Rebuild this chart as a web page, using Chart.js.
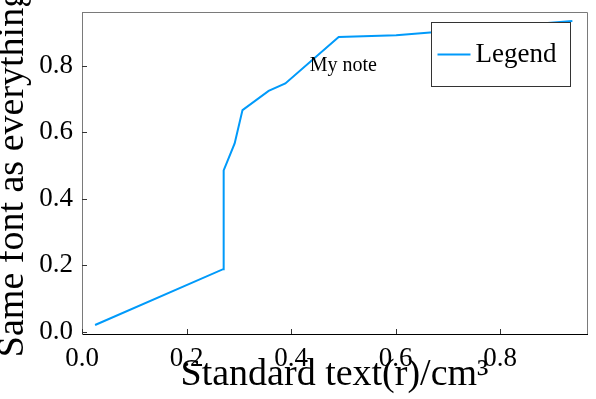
<!DOCTYPE html>
<html><head><meta charset="utf-8">
<script src="https://cdn.jsdelivr.net/npm/chart.js@4"></script>
<style>html,body{margin:0;padding:0;background:#fff}</style>
</head><body>
<canvas id="c" width="596" height="399" style="display:block;width:596px;height:399px"></canvas>
<script>
// ---- data ----
const xValues = [0.025, 0.270, 0.271, 0.292, 0.307, 0.357, 0.389, 0.491, 0.601, 0.938];
const yValues = [0.020, 0.188, 0.485, 0.566, 0.666, 0.724, 0.746, 0.886, 0.891, 0.934];
const xTicks = [0.0, 0.2, 0.4, 0.6, 0.8];
const yTicks = [0.0, 0.2, 0.4, 0.6, 0.8];
const xRange = [0, 0.966];
const yRange = [-0.007, 0.961];
const seriesName = 'Legend';
const xTitle = 'Standard text(r)/cm³';
const yTitle = 'Same font as everything';
const noteText = 'My note';
const noteX = 0.5;
const noteY = 0.8;

const FONT = '"Liberation Serif", "Times New Roman", serif';
const LINE_COLOR = '#009AFA';

const decorPlugin = {
  id: 'decor',
  afterDatasetsDraw(chart) {
    const {ctx, scales: {x, y}} = chart;
    ctx.save();
    ctx.font = '20px ' + FONT;
    ctx.fillStyle = '#000';
    ctx.textAlign = 'center';
    ctx.textBaseline = 'middle';
    ctx.fillText(noteText, x.getPixelForValue(noteX), y.getPixelForValue(noteY));
    ctx.restore();
  },
  afterDraw(chart) {
    const {ctx, chartArea: a, scales: {x, y}} = chart;
    ctx.save();
    // top/right frame
    ctx.strokeStyle = '#7a7a7a';
    ctx.lineWidth = 1;
    ctx.beginPath();
    ctx.moveTo(a.left, a.top + 0.5);
    ctx.lineTo(a.right + 0.5, a.top + 0.5);
    ctx.lineTo(a.right + 0.5, a.bottom);
    ctx.stroke();
    // inward tick marks
    ctx.strokeStyle = '#333';
    ctx.beginPath();
    x.ticks.forEach((t, i) => {
      const px = Math.round(x.getPixelForTick(i)) + 0.5;
      ctx.moveTo(px, a.bottom); ctx.lineTo(px, a.bottom - 5);
    });
    y.ticks.forEach((t, i) => {
      const py = Math.round(y.getPixelForTick(i)) + 0.5;
      ctx.moveTo(a.left, py); ctx.lineTo(a.left + 5, py);
    });
    ctx.stroke();
    // legend
    const ds = chart.data.datasets[0];
    const bx = a.right - 155.5, by = a.top + 10.5, bw = 139, bh = 64;
    ctx.fillStyle = '#fff';
    ctx.fillRect(bx, by, bw, bh);
    ctx.strokeStyle = '#333';
    ctx.strokeRect(bx, by, bw, bh);
    const cy = by + bh / 2;
    ctx.strokeStyle = ds.borderColor;
    ctx.lineWidth = 2;
    ctx.beginPath();
    ctx.moveTo(bx + 6, cy); ctx.lineTo(bx + 39, cy);
    ctx.stroke();
    ctx.font = '27px ' + FONT;
    ctx.fillStyle = '#000';
    ctx.textAlign = 'left';
    ctx.textBaseline = 'middle';
    ctx.fillText(ds.label, bx + 44, cy);
    ctx.restore();
  }
};

new Chart(document.getElementById('c'), {
  type: 'line',
  data: {
    datasets: [{
      label: seriesName,
      data: xValues.map((v, i) => ({x: v, y: yValues[i]})),
      borderColor: LINE_COLOR,
      backgroundColor: LINE_COLOR,
      borderWidth: 2,
      pointRadius: 0,
      tension: 0,
      fill: false
    }]
  },
  options: {
    responsive: false,
    animation: false,
    devicePixelRatio: 1,
    layout: {padding: {top: 12, right: 9, left: 0, bottom: 0}},
    plugins: {legend: {display: false}, tooltip: {enabled: false}},
    scales: {
      x: {
        type: 'linear',
        min: xRange[0], max: xRange[1],
        afterBuildTicks: s => { s.ticks = xTicks.map(v => ({value: v})); },
        afterFit: s => { s.height = 65; s.paddingLeft = 0; s.paddingRight = 0; },
        grid: {display: false, drawTicks: false},
        border: {display: true, color: '#000', width: 1},
        ticks: {
          color: '#000', padding: 9,
          font: {family: FONT, size: 27},
          callback: v => v.toFixed(1),
          maxRotation: 0
        },
        title: {
          display: true, text: xTitle, color: '#000',
          font: {family: FONT, size: 38, lineHeight: 1},
          padding: {top: 0, bottom: 5}
        }
      },
      y: {
        type: 'linear',
        min: yRange[0], max: yRange[1],
        afterBuildTicks: s => { s.ticks = yTicks.map(v => ({value: v})); },
        afterFit: s => { s.width = 82; s.paddingTop = 0; s.paddingBottom = 0; },
        grid: {display: false, drawTicks: false},
        border: {display: true, color: '#7a7a7a', width: 1},
        ticks: {
          color: '#000', padding: 9,
          font: {family: FONT, size: 27},
          callback: v => v.toFixed(1)
        },
        title: {
          display: true, text: yTitle, color: '#000',
          font: {family: FONT, size: 38, lineHeight: 1},
          padding: {top: -6, bottom: 0}
        }
      }
    }
  },
  plugins: [decorPlugin]
});
</script>
</body></html>
